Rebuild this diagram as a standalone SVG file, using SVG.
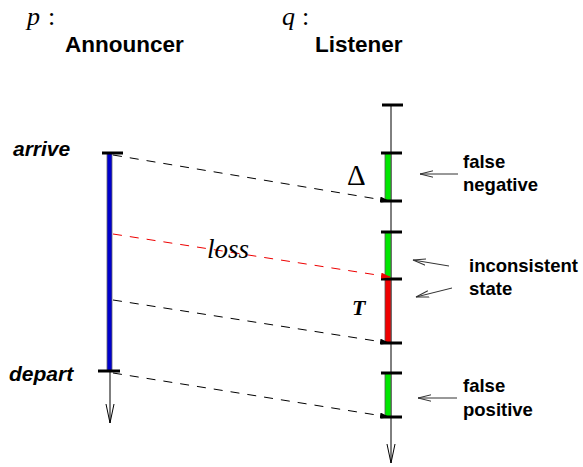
<svg xmlns="http://www.w3.org/2000/svg" width="583" height="467" viewBox="0 0 583 467">
<defs>
<marker id="ah" markerWidth="10" markerHeight="6" refX="9" refY="3" orient="auto" markerUnits="userSpaceOnUse">
<path d="M0,0 L10,3 L0,6 Z" fill="#000"/>
</marker>
<marker id="ahr" markerWidth="10" markerHeight="6" refX="9" refY="3" orient="auto" markerUnits="userSpaceOnUse">
<path d="M0,0 L10,3 L0,6 Z" fill="#e00"/>
</marker>
<marker id="la" markerWidth="14" markerHeight="8" refX="13" refY="4" orient="auto" markerUnits="userSpaceOnUse">
<path d="M0,0.8 L13,4 L0,7.2" fill="none" stroke="#333" stroke-width="1"/>
</marker>
</defs>
<style>
.hdr{font-family:"Liberation Sans",Arial,sans-serif;font-weight:bold;font-size:22.5px;fill:#000}
.ev{font-family:"Liberation Sans",Arial,sans-serif;font-weight:bold;font-style:italic;font-size:21px;fill:#000}
.lbl{font-family:"Liberation Sans",Arial,sans-serif;font-weight:bold;font-size:18.5px;fill:#000}
.math{font-family:"Liberation Serif","Times New Roman",serif;font-style:italic;font-size:26px;fill:#000}
.tick{stroke:#000;stroke-width:3}
.axis{stroke:#000;stroke-width:1;fill:none}
.msg{stroke:#000;stroke-width:1;stroke-dasharray:9,8;fill:none}
.ptr{stroke:#333;stroke-width:1;fill:none}
</style>

<g id="announcer">
<text class="math" x="27" y="25">p</text>
<text class="math" x="48" y="25" style="font-style:normal">:</text>
<text class="hdr" x="65" y="52">Announcer</text>
<line class="axis" x1="110" y1="153" x2="110" y2="423"/>
<path class="axis" d="M106,404 L110,423 L114,404"/>
<rect x="107" y="153" width="5" height="218" fill="#0000cc" stroke="#666" stroke-width="0.8"/>
<line class="tick" x1="102" y1="153" x2="123" y2="153"/>
<line class="tick" x1="98" y1="371" x2="120" y2="371"/>
<text class="ev" x="13" y="156">arrive</text>
<text class="ev" x="9" y="381">depart</text>
</g>

<g id="listener">
<text class="math" x="282" y="25">q</text>
<text class="math" x="302" y="25" style="font-style:normal">:</text>
<text class="hdr" x="315" y="52">Listener</text>
<line class="axis" x1="391" y1="105" x2="391" y2="463"/>
<path class="axis" d="M387,444 L391,463 L395,444"/>
<rect x="385" y="153" width="6" height="48" fill="#00e600" stroke="#555" stroke-width="0.8"/>
<rect x="385" y="232" width="6" height="47" fill="#00e600" stroke="#555" stroke-width="0.8"/>
<rect x="385" y="279" width="6" height="64" fill="#ee0000" stroke="#555" stroke-width="0.8"/>
<rect x="385" y="373" width="6" height="44" fill="#00e600" stroke="#555" stroke-width="0.8"/>
<line class="tick" x1="382" y1="105" x2="403" y2="105"/>
<line class="tick" x1="381" y1="153" x2="402" y2="153"/>
<line class="tick" x1="381" y1="201" x2="402" y2="201"/>
<line class="tick" x1="381" y1="232" x2="402" y2="232"/>
<line class="tick" x1="381" y1="279" x2="402" y2="279"/>
<line class="tick" x1="381" y1="343" x2="402" y2="343"/>
<line class="tick" x1="381" y1="373" x2="402" y2="373"/>
<line class="tick" x1="381" y1="417" x2="402" y2="417"/>
<text x="347" y="185" style="font-family:'Liberation Serif','Times New Roman',serif;font-size:29px">Δ</text>
<text x="352" y="315" style="font-family:'Liberation Serif','Times New Roman',serif;font-size:22px;font-weight:bold;font-style:italic">T</text>
</g>

<g id="connectors">
<line class="msg" x1="113" y1="155" x2="389" y2="201" marker-end="url(#ah)"/>
<line class="msg" x1="113" y1="234" x2="390" y2="277" style="stroke:#e00" marker-end="url(#ahr)"/>
<line class="msg" x1="113" y1="300" x2="389" y2="343" marker-end="url(#ah)"/>
<line class="msg" x1="113" y1="373" x2="389" y2="417" marker-end="url(#ah)"/>
<line class="ptr" x1="458" y1="174" x2="420" y2="174" marker-end="url(#la)"/>
<line class="ptr" x1="449" y1="266" x2="413" y2="260" marker-end="url(#la)"/>
<line class="ptr" x1="452" y1="288" x2="416" y2="297" marker-end="url(#la)"/>
<line class="ptr" x1="457" y1="398" x2="418" y2="398" marker-end="url(#la)"/>
</g>

<g id="labels">
<text class="math" x="207" y="258" style="font-size:27px">loss</text>
<text class="lbl" x="463" y="168">false</text>
<text class="lbl" x="463" y="191">negative</text>
<text class="lbl" x="469" y="272">inconsistent</text>
<text class="lbl" x="469" y="295">state</text>
<text class="lbl" x="463" y="392">false</text>
<text class="lbl" x="463" y="416">positive</text>
</g>
</svg>
